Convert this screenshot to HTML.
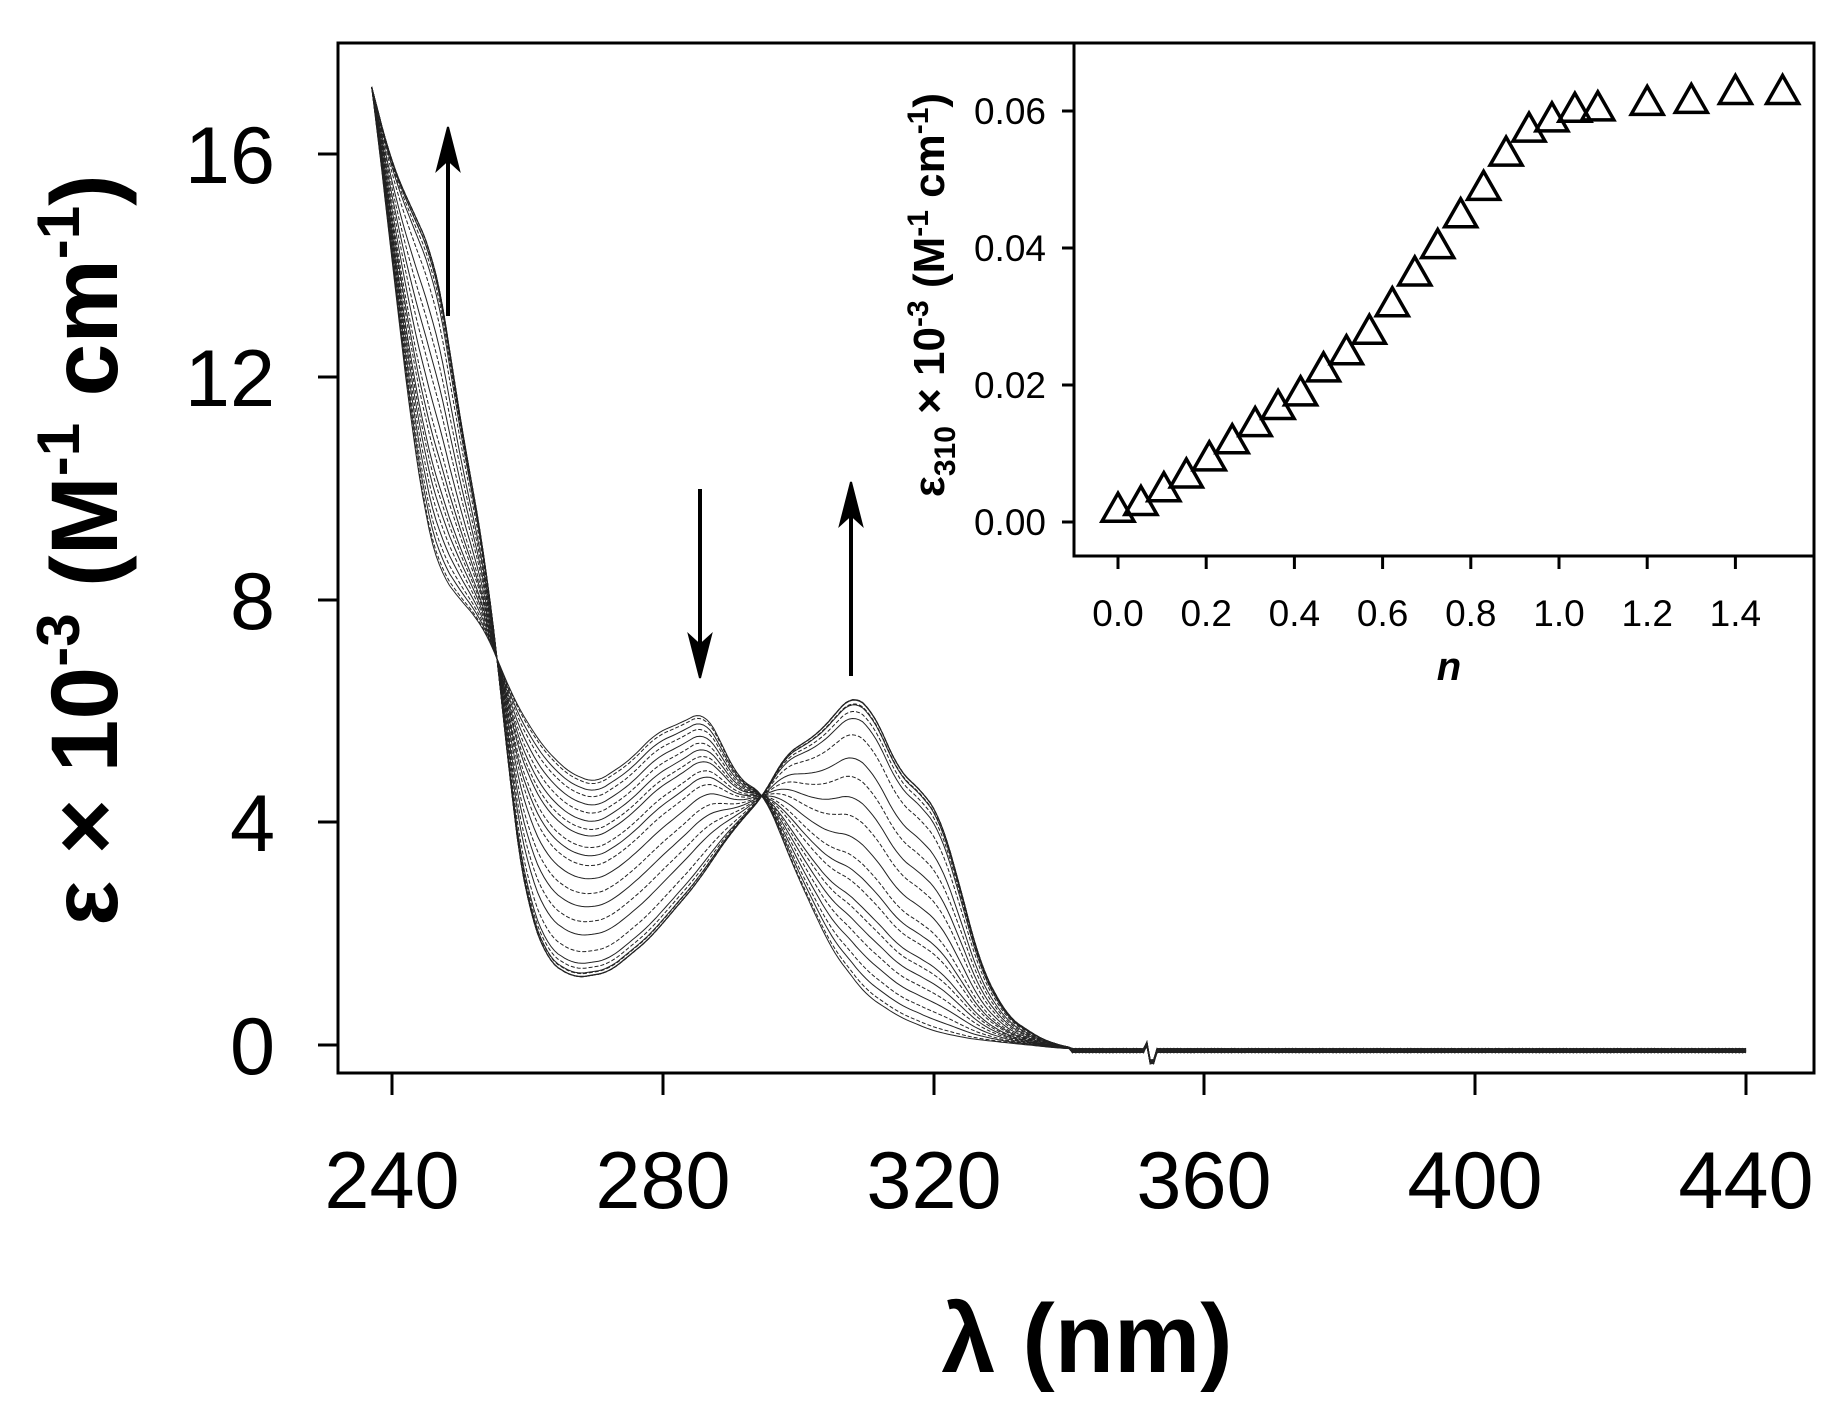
<!DOCTYPE html>
<html><head><meta charset="utf-8"><style>
html,body{margin:0;padding:0;background:#fff;}
svg{display:block;font-family:"Liberation Sans",Arial,sans-serif;}
</style></head><body>
<svg id="s" width="1836" height="1424" viewBox="0 0 1836 1424" xmlns="http://www.w3.org/2000/svg">
<rect width="1836" height="1424" fill="#fff"/>
<g id="curves" fill="none" stroke="#222" stroke-width="1"></g>
<rect x="338" y="43" width="1476" height="1030" fill="none" stroke="#000" stroke-width="3"/>
<path d="M1074 43 V556 H1814" fill="none" stroke="#000" stroke-width="3"/>
<g stroke="#000" stroke-width="3">
<line x1="318" y1="154" x2="338" y2="154"/><line x1="318" y1="377" x2="338" y2="377"/>
<line x1="318" y1="600" x2="338" y2="600"/><line x1="318" y1="822" x2="338" y2="822"/>
<line x1="318" y1="1045" x2="338" y2="1045"/>
<line x1="392" y1="1073" x2="392" y2="1095"/><line x1="663" y1="1073" x2="663" y2="1095"/>
<line x1="934" y1="1073" x2="934" y2="1095"/><line x1="1204" y1="1073" x2="1204" y2="1095"/>
<line x1="1475" y1="1073" x2="1475" y2="1095"/><line x1="1746" y1="1073" x2="1746" y2="1095"/>
</g>
<g font-size="81" text-anchor="end">
<text x="275" y="183">16</text><text x="275" y="406">12</text>
<text x="275" y="629">8</text><text x="275" y="851">4</text><text x="275" y="1074">0</text>
</g>
<g font-size="81" text-anchor="middle">
<text x="392" y="1208">240</text><text x="663" y="1208">280</text><text x="934" y="1208">320</text>
<text x="1204" y="1208">360</text><text x="1475" y="1208">400</text><text x="1746" y="1208">440</text>
</g>
<text x="1087" y="1372" font-size="97" font-weight="bold" text-anchor="middle">λ (nm)</text>
<text transform="translate(117,550) rotate(-90)" font-size="95" font-weight="bold" text-anchor="middle">ε × 10<tspan font-size="60" dy="-38">-3</tspan><tspan dy="38"> (M</tspan><tspan font-size="60" dy="-38">-1</tspan><tspan dy="38"> cm</tspan><tspan font-size="60" dy="-38">-1</tspan><tspan dy="38">)</tspan></text>
<g stroke="#000" stroke-width="4" fill="#000">
<line x1="448" y1="316" x2="448" y2="140"/>
<path d="M448 127 L437 170 L448 160 L459 170 Z" stroke-width="2"/>
<line x1="700" y1="489" x2="700" y2="665"/>
<path d="M700 678 L689 635 L700 645 L711 635 Z" stroke-width="2"/>
<line x1="851" y1="676" x2="851" y2="495"/>
<path d="M851 482 L840 525 L851 515 L862 525 Z" stroke-width="2"/>
</g>
<g stroke="#000" stroke-width="3">
<line x1="1062" y1="111" x2="1074" y2="111"/><line x1="1062" y1="248" x2="1074" y2="248"/>
<line x1="1062" y1="385" x2="1074" y2="385"/><line x1="1062" y1="522" x2="1074" y2="522"/>
</g>
<g id="ixt" stroke="#000" stroke-width="3"></g>
<g font-size="37" text-anchor="end">
<text x="1046" y="124">0.06</text><text x="1046" y="261">0.04</text>
<text x="1046" y="398">0.02</text><text x="1046" y="535">0.00</text>
</g>
<g id="ixl" font-size="37" text-anchor="middle"></g>
<text x="1449" y="680" font-size="40" font-weight="bold" font-style="italic" text-anchor="middle">n</text>
<text transform="translate(944,295) rotate(-90)" font-size="44" font-weight="bold" text-anchor="middle">ε<tspan font-size="30" dy="11">310</tspan><tspan dy="-11"> × 10</tspan><tspan font-size="30" dy="-16">-3</tspan><tspan dy="16"> (M</tspan><tspan font-size="30" dy="-16">-1</tspan><tspan dy="16"> cm</tspan><tspan font-size="30" dy="-16">-1</tspan><tspan dy="16">)</tspan></text>
<g id="tri" fill="none" stroke="#000" stroke-width="3.5"></g>
</svg>
<script>
var NS="http://www.w3.org/2000/svg";
function X(l){return 392+(l-240)*6.77;}
function Y(v){return 1045-v*55.7;}
var A=[[237,17.2],[239,15.2],[241,13],[243,11],[245,9.4],[247,8.5],[250,8.0],[253,7.6],[255,7.1],[258,6.2],[262,5.4],[266,4.9],[270,4.7],[275,5.1],[279,5.6],[283,5.8],[286,6.0],[288,5.6],[291,4.8],[295,4.5],[300,3.0],[305,1.7],[310,0.9],[315,0.5],[320,0.25],[325,0.12],[330,0.05],[338,-0.05],[345,-0.1]];
var B=[[237,17.2],[240,15.8],[243,15.0],[246,14.2],[248,13],[250,11.2],[252,10.0],[254,8.5],[256,6.5],[258,4.0],[260,2.5],[263,1.5],[267,1.2],[272,1.3],[278,1.9],[285,2.9],[290,3.8],[295,4.5],[298,5.2],[303,5.6],[308,6.3],[311,6.0],[315,4.9],[318,4.6],[321,4.1],[324,2.8],[327,1.4],[331,0.5],[336,0.1],[340,-0.05],[345,-0.1]];
function interp(D,l){if(l<=D[0][0])return D[0][1];for(var i=1;i<D.length;i++){if(l<=D[i][0]){var t=(l-D[i-1][0])/(D[i][0]-D[i-1][0]);return D[i-1][1]+t*(D[i][1]-D[i-1][1]);}}return -0.1;}
function smooth(D,l){if(l<239)return interp(D,l);var s=0,n=0;for(var d=-1.5;d<=1.5;d+=0.5){s+=interp(D,l+d);n++;}return s/n;}
var pts=[[0,0.002],[0.052,0.003],[0.104,0.005],[0.155,0.007],[0.207,0.0095],[0.259,0.012],[0.311,0.0145],[0.363,0.017],[0.414,0.019],[0.466,0.0225],[0.518,0.025],[0.57,0.028],[0.622,0.032],[0.673,0.0365],[0.725,0.0405],[0.777,0.045],[0.829,0.049],[0.88,0.054],[0.932,0.0575],[0.984,0.059],[1.036,0.0604],[1.088,0.0606],[1.2,0.0614],[1.3,0.0617],[1.4,0.063],[1.507,0.063]];
var g=document.getElementById("curves");
pts.forEach(function(p,k){
 var f=Math.min(1,(p[1]-0.002)/0.0595);
 var d="";
 for(var l=237;l<=440;l+=0.5){
  var v=(1-f)*smooth(A,l)+f*smooth(B,l);
  if(l>340)v=-0.1+0.04*Math.sin(l*2.3+k*1.3);
  if(Math.abs(l-352)<1)v+=(l<352?0.12:-0.2);
  d+=(d?"L":"M")+X(l).toFixed(1)+" "+Y(v).toFixed(1);
 }
 var e=document.createElementNS(NS,"path");e.setAttribute("d",d);
 if(k%2)e.setAttribute("stroke-dasharray","4 2");
 g.appendChild(e);
});
var tg=document.getElementById("tri");
pts.forEach(function(p){
 var x=1118+p[0]/0.2*88.2,y=522-p[1]/0.06*411;
 var e=document.createElementNS(NS,"path");
 e.setAttribute("d","M"+x+" "+(y-15)+"L"+(x+16)+" "+(y+13)+"L"+(x-16)+" "+(y+13)+"Z");
 tg.appendChild(e);
});
var it=document.getElementById("ixt"),il=document.getElementById("ixl");
for(var i=0;i<8;i++){
 var x=1118+i*88.2;
 var l=document.createElementNS(NS,"line");l.setAttribute("x1",x);l.setAttribute("x2",x);l.setAttribute("y1",556);l.setAttribute("y2",569);it.appendChild(l);
 var t=document.createElementNS(NS,"text");t.setAttribute("x",x);t.setAttribute("y",626);t.textContent=(i*0.2).toFixed(1);il.appendChild(t);
}
</script>
</body></html>
